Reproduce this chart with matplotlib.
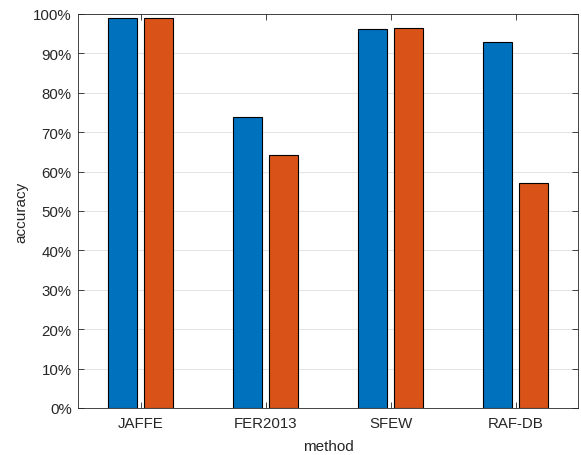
import numpy as np
import matplotlib.pyplot as plt
from matplotlib.ticker import FuncFormatter

plt.rcParams['font.family'] = ['Liberation Sans', 'DejaVu Sans']

# данные
methods = ['JAFFE', 'FER2013', 'SFEW', 'RAF-DB']
acc_a = [99.1, 73.8, 96.1, 93.0]
acc_b = [99.0, 64.3, 96.4, 57.1]

fig = plt.figure(figsize=(5.81, 4.56), dpi=100)
ax = fig.add_axes([78 / 581, 47 / 456, 500 / 581, 394 / 456])

x = np.arange(1, len(methods) + 1)
w = 0.231
ax.bar(x - 0.1435, acc_a, w, color='#0072BD', edgecolor='black', linewidth=0.8, zorder=3)
ax.bar(x + 0.1435, acc_b, w, color='#D95319', edgecolor='black', linewidth=0.8, zorder=3)

ax.set_xlim(0.5, 4.5)
ax.set_ylim(0, 100)
ax.set_xticks(x)
ax.set_xticklabels(methods)
ax.set_yticks(np.arange(0, 101, 10))
ax.yaxis.set_major_formatter(FuncFormatter(lambda v, p: '%d%%' % v))

ax.grid(axis='y', color='#262626', alpha=0.15, linewidth=0.6, zorder=0)
ax.tick_params(direction='in', top=True, right=True, length=4, width=0.6,
               colors='#262626', labelsize=10.8)
ax.tick_params(axis='x', pad=6)
ax.tick_params(axis='y', pad=4.5)
for s in ax.spines.values():
    s.set_color('#262626')
    s.set_linewidth(0.6)

ax.set_xlabel('method', fontsize=11, color='#262626', va='center')
ax.set_ylabel('accuracy', fontsize=11, color='#262626', va='center')
ax.xaxis.set_label_coords(0.5, -0.097)
ax.yaxis.set_label_coords(-0.113, 0.5)

fig.savefig('out.png', dpi=100)
